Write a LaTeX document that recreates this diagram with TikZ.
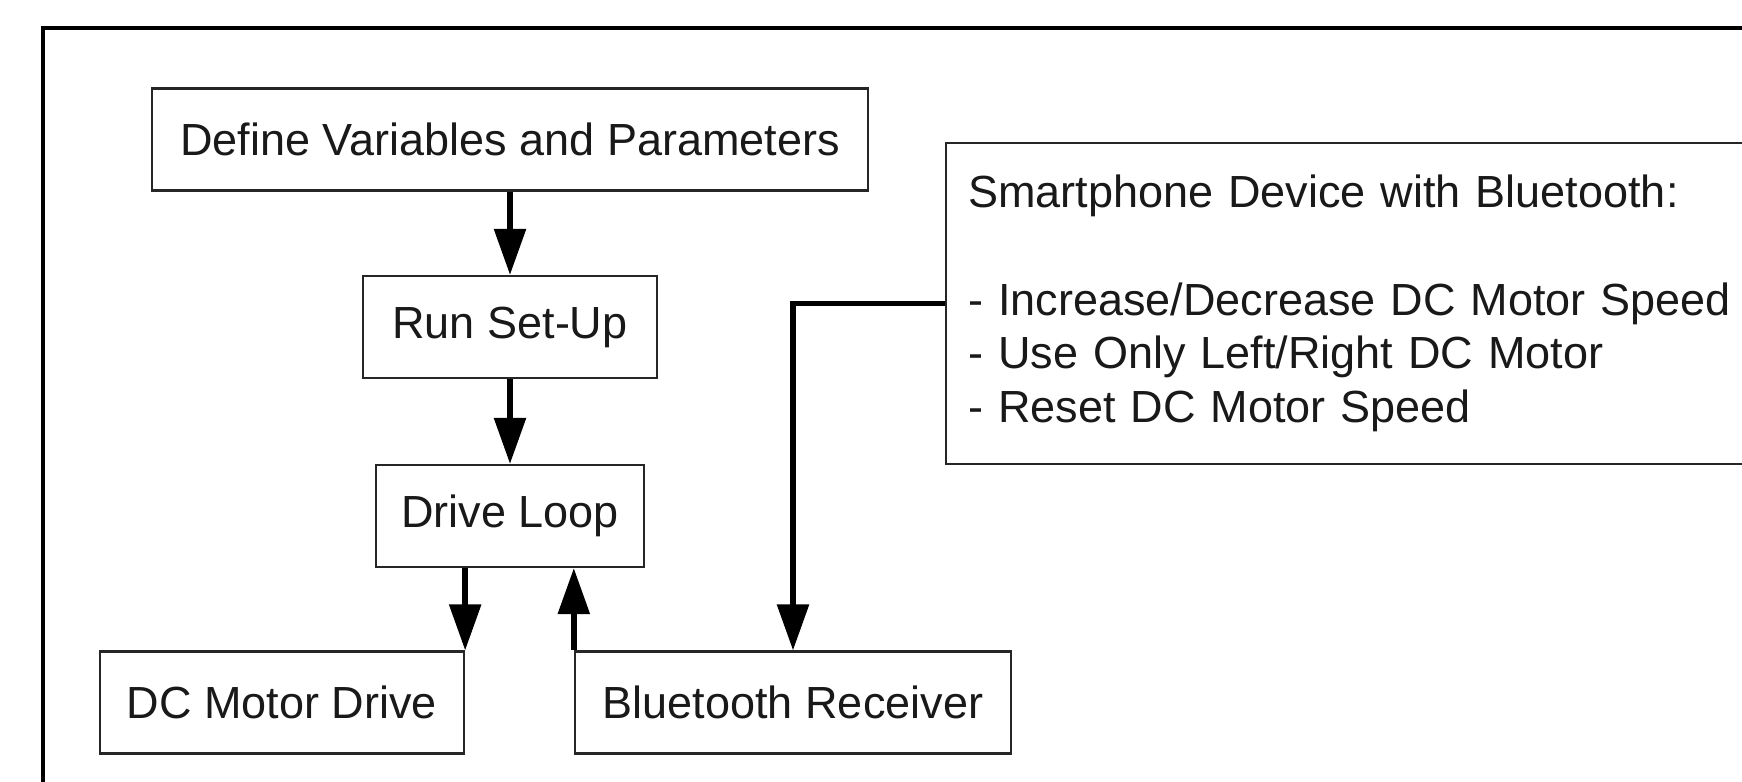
\documentclass[tikz,border=0pt]{standalone}
\usepackage{fontspec}
\setmainfont{Liberation Sans}
\usetikzlibrary{arrows.meta}
\begin{document}
\begin{tikzpicture}[x=0.01cm, y=-0.01cm,
    blockbox/.style={draw=black!85, line width=0.6pt, minimum height=1.02cm, inner sep=0pt,
      text=black!90, font=\fontsize{12.8}{15.3}\selectfont},
    flowarrow/.style={-{Triangle[length=0.46cm, width=0.31cm]}, line width=1.6pt},
    flowline/.style={line width=1.6pt}]
    \useasboundingbox (0,0) rectangle (1742,781);
    \fill[white] (0,0) rectangle (1742,781);
    % outer frame
    \draw[line width=0.9pt] (43,850) -- (43,28) -- (1800,28);
    % define variables
    \node[blockbox, minimum width=7.15cm] (define) at (510,139.5) {Define Variables and Parameters};
    % set-up
    \node[blockbox, minimum width=2.93cm] (runsetup) at (510,327) {Run Set-Up};
    \draw[flowarrow] (define.south) -- (runsetup.north);
    % drive loop
    \node[blockbox, minimum width=2.67cm] (dloop) at (510,516) {Drive Loop};
    \draw[flowarrow] (runsetup.south) -- (dloop.north);
    % motor drive and receiver
    \node[blockbox, minimum width=3.64cm] (dcdrive) at (282,702.5) {DC Motor Drive};
    \node[blockbox, minimum width=4.36cm] (btrecv) at (793,702.5) {Bluetooth Receiver};
    \draw[flowarrow] (dloop.south -| dcdrive.north east) -- (dcdrive.north east);
    \draw[flowarrow] (btrecv.north west) -- (btrecv.north west |- dloop.south);
    % smartphone
    \node[blockbox, minimum width=8.5cm, minimum height=3.21cm, text width=8.06cm, align=left, anchor=west] (phone) at (945,303.5)
      {Smartphone Device with Bluetooth:\\[15.3pt]
       - Increase/Decrease DC Motor Speed\\
       - Use Only Left/Right DC Motor\\
       - Reset DC Motor Speed};
    \draw[flowarrow] (phone.west) -| (btrecv.north);
\end{tikzpicture}
\end{document}
